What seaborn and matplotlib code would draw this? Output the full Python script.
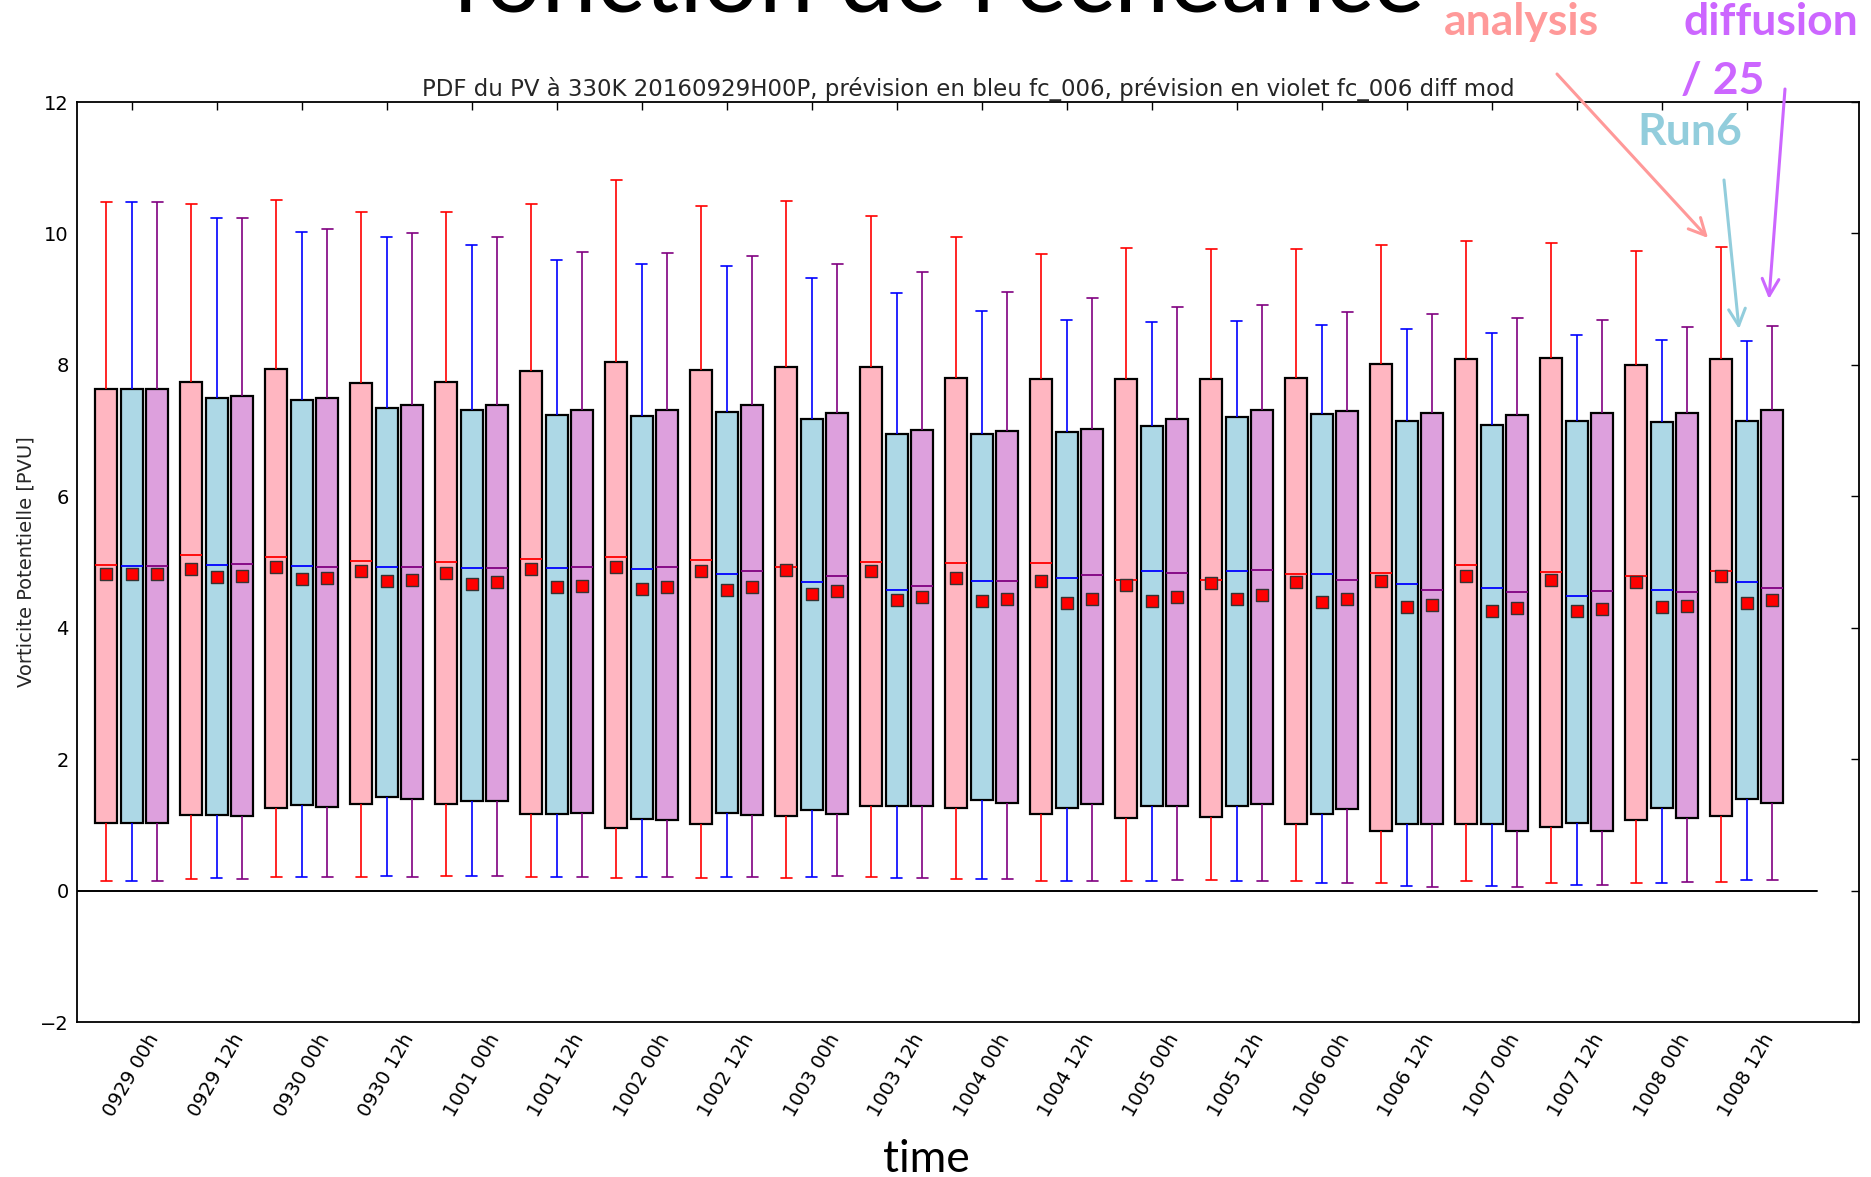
import numpy as np
import pandas as pd
import matplotlib
matplotlib.use("Agg")
import matplotlib.pyplot as plt
import seaborn as sns

# ---------------- data ----------------
times = ["0929 00h", "0929 12h", "0930 00h", "0930 12h", "1001 00h", "1001 12h",
         "1002 00h", "1002 12h", "1003 00h", "1003 12h", "1004 00h", "1004 12h",
         "1005 00h", "1005 12h", "1006 00h", "1006 12h", "1007 00h", "1007 12h",
         "1008 00h", "1008 12h"]

series_names = ["analysis", "Run6", "diffusion / 25"]

# analysis (red)
ana_high = [10.48, 10.45, 10.51, 10.33, 10.32, 10.45, 10.82, 10.41, 10.49, 10.26,
            9.95, 9.69, 9.78, 9.77, 9.77, 9.83, 9.88, 9.85, 9.74, 9.79]
ana_q3 = [7.64, 7.74, 7.93, 7.73, 7.74, 7.91, 8.04, 7.92, 7.97, 7.97,
          7.80, 7.79, 7.79, 7.79, 7.80, 8.02, 8.09, 8.10, 8.00, 8.09]
ana_med = [4.95, 5.10, 5.08, 5.02, 5.00, 5.05, 5.08, 5.03, 4.93, 5.00,
           4.98, 4.98, 4.73, 4.73, 4.82, 4.84, 4.95, 4.85, 4.79, 4.86]
ana_mean = [4.81, 4.89, 4.93, 4.86, 4.84, 4.89, 4.92, 4.87, 4.88, 4.87,
            4.76, 4.71, 4.65, 4.68, 4.69, 4.71, 4.79, 4.72, 4.70, 4.79]
ana_q1 = [1.03, 1.15, 1.25, 1.32, 1.32, 1.16, 0.95, 1.02, 1.13, 1.28,
          1.25, 1.17, 1.10, 1.12, 1.02, 0.91, 1.01, 0.96, 1.08, 1.13]
ana_low = [0.15, 0.18, 0.20, 0.20, 0.22, 0.20, 0.19, 0.19, 0.19, 0.21,
           0.17, 0.15, 0.14, 0.16, 0.15, 0.11, 0.14, 0.12, 0.12, 0.13]

# Run6 forecast (blue)
run_high = [10.48, 10.23, 10.02, 9.94, 9.83, 9.59, 9.54, 9.51, 9.32, 9.10,
            8.82, 8.69, 8.65, 8.67, 8.60, 8.54, 8.49, 8.46, 8.38, 8.37]
run_q3 = [7.64, 7.50, 7.47, 7.35, 7.32, 7.23, 7.22, 7.29, 7.18, 6.95,
          6.95, 6.98, 7.07, 7.20, 7.25, 7.14, 7.08, 7.14, 7.13, 7.14]
run_med = [4.94, 4.96, 4.94, 4.93, 4.91, 4.91, 4.89, 4.82, 4.70, 4.58,
           4.71, 4.76, 4.86, 4.87, 4.82, 4.67, 4.61, 4.49, 4.58, 4.69]
run_mean = [4.81, 4.77, 4.74, 4.71, 4.66, 4.62, 4.59, 4.58, 4.52, 4.42,
            4.40, 4.38, 4.41, 4.44, 4.39, 4.31, 4.26, 4.26, 4.32, 4.38]
run_q1 = [1.03, 1.15, 1.30, 1.43, 1.36, 1.17, 1.09, 1.18, 1.23, 1.28,
          1.38, 1.26, 1.29, 1.29, 1.16, 1.02, 1.01, 1.03, 1.26, 1.40]
run_low = [0.15, 0.19, 0.21, 0.22, 0.22, 0.20, 0.21, 0.20, 0.21, 0.19,
           0.17, 0.15, 0.15, 0.15, 0.11, 0.07, 0.07, 0.09, 0.12, 0.16]

# diffusion / 25 forecast (purple)
dif_high = [10.48, 10.23, 10.06, 10.01, 9.95, 9.72, 9.70, 9.65, 9.54, 9.41,
            9.11, 9.01, 8.88, 8.91, 8.81, 8.78, 8.72, 8.69, 8.57, 8.59]
dif_q3 = [7.64, 7.52, 7.50, 7.39, 7.39, 7.31, 7.32, 7.39, 7.27, 7.01,
          6.99, 7.03, 7.17, 7.32, 7.30, 7.26, 7.24, 7.26, 7.27, 7.31]
dif_med = [4.94, 4.97, 4.93, 4.92, 4.91, 4.93, 4.92, 4.87, 4.78, 4.63,
           4.71, 4.80, 4.84, 4.88, 4.72, 4.58, 4.55, 4.56, 4.55, 4.61]
dif_mean = [4.81, 4.78, 4.75, 4.73, 4.69, 4.64, 4.62, 4.62, 4.56, 4.46,
            4.43, 4.44, 4.47, 4.50, 4.44, 4.35, 4.30, 4.29, 4.33, 4.42]
dif_q1 = [1.03, 1.14, 1.27, 1.40, 1.37, 1.18, 1.08, 1.15, 1.16, 1.28,
          1.33, 1.31, 1.29, 1.32, 1.24, 1.01, 0.90, 0.91, 1.10, 1.34]
dif_low = [0.15, 0.18, 0.20, 0.20, 0.22, 0.20, 0.20, 0.21, 0.22, 0.19,
           0.17, 0.15, 0.16, 0.14, 0.11, 0.06, 0.06, 0.09, 0.13, 0.16]

# ---------------- style ----------------
fill_colors = {"analysis": "#FFB6C1", "Run6": "#ADD8E6", "diffusion / 25": "#DDA0DD"}
line_colors = {"analysis": "#FF0000", "Run6": "#0000FF", "diffusion / 25": "#800080"}

sns.set_style("white")
plt.rcParams["font.family"] = ["DejaVu Sans"]

W, H = 1871, 1177
fig = plt.figure(figsize=(W / 100, H / 100), dpi=100)
ax = fig.add_axes([77 / W, 1 - 1022 / H, (1859 - 77) / W, (1022 - 102) / H])

stats = {
    "analysis": (ana_low, ana_q1, ana_med, ana_q3, ana_high, ana_mean),
    "Run6": (run_low, run_q1, run_med, run_q3, run_high, run_mean),
    "diffusion / 25": (dif_low, dif_q1, dif_med, dif_q3, dif_high, dif_mean),
}

dodge_width = 0.9
n_hue = len(series_names)
for k, name in enumerate(series_names):
    lo, q1, med, q3, hi, mean = stats[name]
    vals = np.column_stack([lo, q1, med, q3, hi]).ravel()
    df = pd.DataFrame({"time": np.repeat(times, 5), "value": vals, "series": name})
    c = line_colors[name]
    sns.boxplot(data=df, x="time", y="value", hue="series", order=times,
                hue_order=series_names, palette=fill_colors, saturation=1,
                dodge=True, width=dodge_width, gap=0.15, whis=(0, 100),
                showfliers=False, linecolor="black", linewidth=1.6,
                whiskerprops={"color": c, "linewidth": 1.2},
                capprops={"color": c, "linewidth": 1.2},
                medianprops={"color": c, "linewidth": 1.3},
                legend=False, ax=ax)

for k, name in enumerate(series_names):
    mean = stats[name][5]
    offset = (k - (n_hue - 1) / 2) * dodge_width / n_hue
    sns.scatterplot(x=np.arange(len(times)) + offset, y=mean, marker="s", s=64,
                    color="red", edgecolor="#333333", linewidth=1.0,
                    zorder=6, legend=False, ax=ax)

ax.axhline(0, xmin=0, xmax=0.9764, color="black", linewidth=1.4, zorder=1)

ax.set_xlim(-0.645, 20.32)
ax.set_ylim(-2, 12)
ax.set_yticks(range(-2, 13, 2))
ax.set_xticks(range(len(times)))
ax.set_xticklabels(times)
ax.tick_params(direction="in", top=True, right=True, length=6, width=1,
               labelsize=14, colors="black", pad=6)
ax.tick_params(axis="x", labelrotation=60)
for sp in ax.spines.values():
    sp.set_visible(True)
    sp.set_color("black")
    sp.set_linewidth(1.3)
ax.set_xlabel("")
ax.set_ylabel("Vorticite Potentielle [PVU]", fontsize=14)
ax.yaxis.set_label_coords(-0.0235, 0.5)
ax.set_title("PDF du PV à 330K 20160929H00P, prévision en bleu fc_006, "
             "prévision en violet fc_006 diff mod", fontsize=16.5, pad=4)

# ---------------- slide annotations ----------------
def fx(px):
    return px / W

def fy(py):
    return 1 - py / H

fig.text(fx(938), fy(12), "fonction de l'échéance", family="Lato", fontsize=71,
         ha="center", va="baseline", color="black")
fig.text(fx(926), fy(1172), "time", family="Lato", fontsize=32,
         ha="center", va="baseline", color="black")
fig.text(fx(1521), fy(35), "analysis", family="Lato", fontweight="bold",
         fontsize=32, ha="center", va="baseline", color="#FF9999")
fig.text(fx(1771), fy(35), "diffusion", family="Lato", fontweight="bold",
         fontsize=32, ha="center", va="baseline", color="#CC66FF")
fig.text(fx(1723), fy(94), "/ 25", family="Lato", fontweight="bold",
         fontsize=32, ha="center", va="baseline", color="#CC66FF")
fig.text(fx(1690), fy(145), "Run6", family="Lato", fontweight="bold",
         fontsize=32, ha="center", va="baseline", color="#92CDDC")

arrows = [((1557, 74), (1708, 238), "#FF9999"),
          ((1724, 180), (1739, 329), "#92CDDC"),
          ((1785, 89), (1769, 299), "#CC66FF")]
for (x0, y0), (x1, y1), col in arrows:
    ax.annotate("", xy=(fx(x1), fy(y1)), xytext=(fx(x0), fy(y0)),
                xycoords="figure fraction", textcoords="figure fraction",
                arrowprops=dict(arrowstyle="->", color=col, lw=2.2,
                                mutation_scale=30, shrinkA=0, shrinkB=0),
                annotation_clip=False)

fig.savefig("out.png", dpi=100)
